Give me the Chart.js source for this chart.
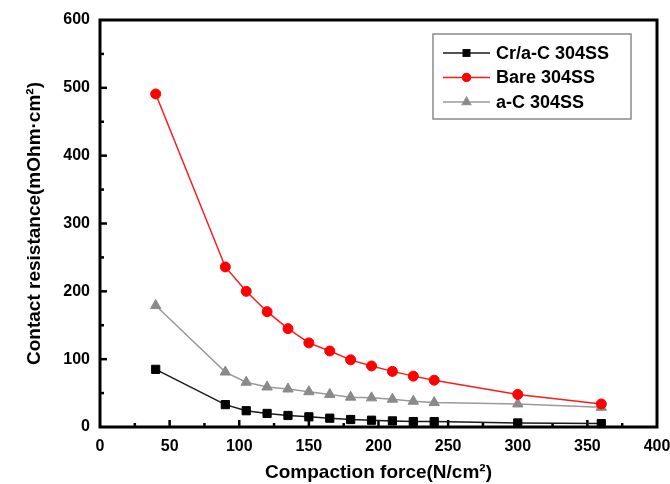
<!DOCTYPE html>
<html>
<head>
<meta charset="utf-8">
<script src="https://cdn.jsdelivr.net/npm/chart.js@4"></script>
<style>
  html, body { margin: 0; padding: 0; background: #fff; }
  #wrap { width: 670px; height: 484px; }
</style>
</head>
<body>
<div id="wrap"><canvas id="resChart" width="670" height="484"></canvas></div>
<script>
// Compaction force (N/cm2)
const force = [40, 90, 105, 120, 135, 150, 165, 180, 195, 210, 225, 240, 300, 360];
// Contact resistance (mOhm·cm2)
const crAc = [85, 33, 24, 20, 17, 15, 13, 11, 10, 9, 8, 8, 6, 5];
const bare = [491, 236, 200, 170, 145, 124, 112, 99, 90, 82, 75, 69, 48, 34];
const aC = [179, 81, 66, 59, 56, 52, 48, 44, 43, 41, 38, 36, 34, 29];
const seriesNames = ['Cr/a-C 304SS', 'Bare 304SS', 'a-C 304SS'];
const xTicks = [0, 50, 100, 150, 200, 250, 300, 350, 400];
const yTicks = [0, 100, 200, 300, 400, 500, 600];

const toPoints = (ys) => force.map((f, i) => ({ x: f, y: ys[i] }));
const FONT = "'Liberation Sans', Arial, sans-serif";

// frame and inward ticks
const framePlugin = {
    id: 'frame',
    beforeDatasetsDraw(chart) {
        const { ctx, chartArea: a, scales } = chart;
        ctx.save();
        ctx.strokeStyle = '#000';
        ctx.lineWidth = 2.5;
        // minor + major ticks, x axis
        for (let v = 25; v < 400; v += 25) {
            const px = scales.x.getPixelForValue(v);
            const len = v % 50 === 0 ? 7 : 4;
            ctx.beginPath();
            ctx.moveTo(px, a.bottom);
            ctx.lineTo(px, a.bottom - len);
            ctx.stroke();
        }
        // y axis
        for (let v = 50; v < 600; v += 50) {
            const py = scales.y.getPixelForValue(v);
            const len = v % 100 === 0 ? 7 : 4;
            ctx.beginPath();
            ctx.moveTo(a.left, py);
            ctx.lineTo(a.left + len, py);
            ctx.stroke();
        }
        ctx.lineWidth = 3;
        ctx.strokeRect(a.left, a.top, a.right - a.left, a.bottom - a.top);
        ctx.restore();
    }
};

// legend box inside the plot
const boxLegend = {
    id: 'boxLegend',
    afterDraw(chart) {
        const { ctx } = chart;
        const x0 = 433, y0 = 34, w = 198, h = 85;
        ctx.save();
        ctx.fillStyle = '#fff';
        ctx.fillRect(x0, y0, w, h);
        ctx.strokeStyle = '#8a8a8a';
        ctx.lineWidth = 1.5;
        ctx.strokeRect(x0, y0, w, h);
        chart.data.datasets.forEach((ds, i) => {
            const cy = y0 + 19 + i * 24.5;
            ctx.strokeStyle = ds.borderColor;
            ctx.lineWidth = 1.5;
            ctx.beginPath();
            ctx.moveTo(x0 + 10, cy);
            ctx.lineTo(x0 + 57, cy);
            ctx.stroke();
            Chart.helpers.drawPoint(ctx, {
                pointStyle: ds.pointStyle,
                radius: ds.pointRadius * 0.8,
                borderWidth: 1
            }, x0 + 33.5, cy);
            ctx.fillStyle = ds.pointBackgroundColor;
            ctx.strokeStyle = ds.pointBorderColor;
            ctx.fill();
            ctx.font = 'bold 18px ' + FONT;
            ctx.fillStyle = '#000';
            ctx.textBaseline = 'middle';
            ctx.fillText(ds.label, x0 + 63, cy + 1);
        });
        ctx.restore();
    }
};

const ctx = document.getElementById('resChart').getContext('2d');
new Chart(ctx, {
    type: 'line',
    data: {
        datasets: [
            {
                label: seriesNames[0],
                data: toPoints(crAc),
                borderColor: '#1a1a1a',
                borderWidth: 1.5,
                pointStyle: 'rect',
                pointRadius: 5.8,
                pointBackgroundColor: '#000',
                pointBorderColor: '#000',
                pointBorderWidth: 1
            },
            {
                label: seriesNames[1],
                data: toPoints(bare),
                borderColor: '#ff1a1a',
                borderWidth: 1.5,
                pointStyle: 'circle',
                pointRadius: 5,
                pointBackgroundColor: '#ff0000',
                pointBorderColor: '#ff0000',
                pointBorderWidth: 1
            },
            {
                label: seriesNames[2],
                data: toPoints(aC),
                borderColor: '#9a9a9a',
                borderWidth: 1.5,
                pointStyle: 'triangle',
                pointRadius: 6,
                pointBackgroundColor: '#8a8a8a',
                pointBorderColor: '#8a8a8a',
                pointBorderWidth: 1
            }
        ]
    },
    options: {
        responsive: false,
        animation: false,
        clip: false,
        layout: { padding: { left: 0, right: 13, top: 20, bottom: 0 } },
        plugins: {
            legend: { display: false },
            tooltip: { enabled: false }
        },
        scales: {
            x: {
                type: 'linear',
                min: 0,
                max: 400,
                afterBuildTicks: (s) => { s.ticks = xTicks.map(v => ({ value: v })); },
                afterFit: (s) => { s.height = 57; s.paddingLeft = 0; s.paddingRight = 0; },
                grid: { display: false, drawTicks: false },
                border: { display: false },
                ticks: {
                    padding: 10,
                    color: '#000',
                    maxRotation: 0,
                    font: { family: FONT, size: 16, weight: 'bold' }
                },
                title: {
                    display: true,
                    text: 'Compaction force(N/cm²)',
                    color: '#000',
                    padding: { top: 0, bottom: 0 },
                    font: { family: FONT, size: 19, weight: 'bold' }
                }
            },
            y: {
                min: 0,
                max: 600,
                afterBuildTicks: (s) => { s.ticks = yTicks.map(v => ({ value: v })); },
                afterFit: (s) => { s.width = 100; s.paddingTop = 0; s.paddingBottom = 0; },
                grid: { display: false, drawTicks: false },
                border: { display: false },
                ticks: {
                    padding: 10,
                    color: '#000',
                    font: { family: FONT, size: 16, weight: 'bold' }
                },
                title: {
                    display: true,
                    text: 'Contact resistance(mOhm·cm²)',
                    color: '#000',
                    padding: { top: 23, bottom: 0 },
                    font: { family: FONT, size: 19, weight: 'bold' }
                }
            }
        }
    },
    plugins: [framePlugin, boxLegend]
});
</script>
</body>
</html>
